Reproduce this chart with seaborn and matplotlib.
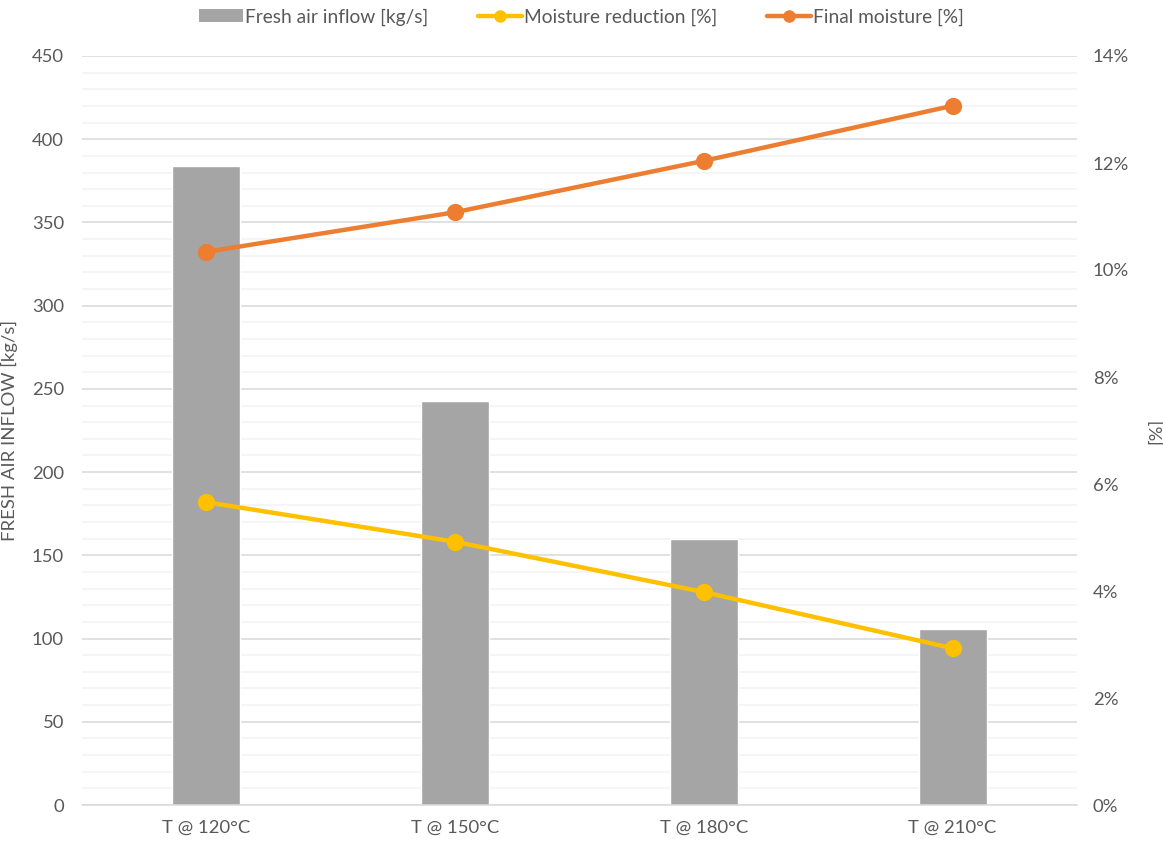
import matplotlib
matplotlib.use("Agg")
import matplotlib.pyplot as plt
import seaborn as sns
import pandas as pd
from matplotlib.ticker import MultipleLocator, PercentFormatter
from matplotlib.patches import Patch
from matplotlib.lines import Line2D

categories = ["T @ 120°C", "T @ 150°C", "T @ 180°C", "T @ 210°C"]
fresh_air = [384, 243, 160, 105.5]
moisture_reduction = [5.66, 4.92, 3.98, 2.93]
final_moisture = [10.34, 11.08, 12.04, 13.07]

GRAY = "#a5a5a5"
YELLOW = "#ffc000"
ORANGE = "#ed7d31"
TXT = "#595959"
FS = 13.3

sns.set_theme(style="white")
plt.rcParams["font.family"] = ["Lato", "DejaVu Sans"]

fig = plt.figure(figsize=(11.63, 8.47), dpi=100)
ax = fig.add_axes([82/1163, 1-805/847, (1077-82)/1163, (805-56)/847])

df = pd.DataFrame({"cat": categories, "air": fresh_air,
                   "red": moisture_reduction, "fin": final_moisture})

sns.barplot(data=df, x="cat", y="air", color=GRAY, saturation=1,
            width=0.273, ax=ax, zorder=2)
ax.set_ylim(0, 450)
ax.yaxis.set_major_locator(MultipleLocator(50))
ax.yaxis.set_minor_locator(MultipleLocator(10))
ax.grid(which="major", axis="y", color="#d9d9d9", lw=1.1, zorder=0)
ax.grid(which="minor", axis="y", color="#f2f2f2", lw=1.1, zorder=0)
ax.set_axisbelow(True)
for s in ["top", "right", "left"]:
    ax.spines[s].set_visible(False)
ax.spines["bottom"].set_color("#d9d9d9")
ax.spines["bottom"].set_linewidth(1.1)
ax.set_xlabel("")
ax.set_ylabel("FRESH AIR INFLOW [kg/s]", color=TXT, fontsize=FS)
ax.yaxis.set_label_coords((18 - 82) / 995, 0.5)
ax.tick_params(axis="y", which="both", length=0, labelsize=FS, labelcolor=TXT, pad=13)
ax.tick_params(axis="x", which="major", length=0, labelsize=FS, labelcolor=TXT, pad=11)
ax.set_xticks(range(len(categories)))
ax.set_xticklabels(categories)
ax.set_xticks([i - 0.5 for i in range(len(categories) + 1)], minor=True)
ax.tick_params(axis="x", which="minor", length=6, color="#d9d9d9", width=1.1)

ax2 = ax.twinx()
sns.pointplot(data=df, x="cat", y="red", color=YELLOW, markers="o",
              linewidth=3.2, markersize=10, ax=ax2)
sns.pointplot(data=df, x="cat", y="fin", color=ORANGE, markers="o",
              linewidth=3.2, markersize=10, ax=ax2)
ax2.set_ylim(0, 14)
ax2.yaxis.set_major_locator(MultipleLocator(2))
ax2.yaxis.set_major_formatter(PercentFormatter(100, decimals=0))
ax2.tick_params(axis="y", length=0, labelsize=FS, labelcolor=TXT, pad=11.5)
ax2.set_ylabel("[%]", color=TXT, fontsize=FS, rotation=90)
ax2.yaxis.set_label_coords((1148 - 82) / 995, 0.5)
ax2.grid(False)
for s in ["top", "right", "left", "bottom"]:
    ax2.spines[s].set_visible(False)
ax2.set_xlabel("")
ax.set_xlim(-0.5, len(categories) - 0.5)

handles = [
    Patch(facecolor=GRAY, edgecolor="none", label="Fresh air inflow [kg/s]"),
    Line2D([], [], color=YELLOW, lw=3.2, marker="o", markersize=8,
           label="Moisture reduction [%]"),
    Line2D([], [], color=ORANGE, lw=3.2, marker="o", markersize=8,
           label="Final moisture [%]"),
]
leg = fig.legend(handles=handles, loc="center", bbox_to_anchor=(0.5, 1 - 17/847),
                 ncol=3, frameon=False, fontsize=13.8, handlelength=2.3,
                 handletextpad=0.1, columnspacing=2.6, labelcolor=TXT)

fig.savefig("out.png", dpi=100)
